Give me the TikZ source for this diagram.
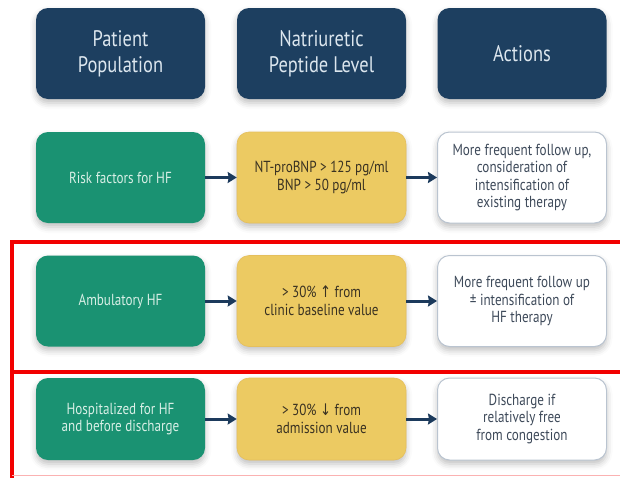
\documentclass[tikz,border=0pt]{standalone}
\usepackage{fontspec}
\setmainfont{PT Sans}[FakeStretch=0.82]
\newfontfamily\symfont{DejaVu Sans}[FakeStretch=0.82]
\usetikzlibrary{arrows.meta,shadows.blur}

\definecolor{navy}{HTML}{1D3F60}
\definecolor{teal}{HTML}{1A9272}
\definecolor{mustard}{HTML}{ECCA62}
\definecolor{paleline}{HTML}{BAC4D0}
\definecolor{headtext}{HTML}{DCE6EE}
\definecolor{greentext}{HTML}{D8EFE6}
\definecolor{yellowtext}{HTML}{3A3222}
\definecolor{whitetext}{HTML}{3E4A5A}
\definecolor{arrowcol}{HTML}{1C3A5C}
\definecolor{framered}{HTML}{F20000}

\tikzset{
  card/.style={rectangle, rounded corners=12pt, minimum width=169pt,
    minimum height=91pt, inner sep=0pt, align=center,
    blur shadow={shadow xshift=0pt, shadow yshift=-4pt, shadow opacity=25, shadow blur radius=6pt}},
  headbox/.style={card, fill=navy, text=headtext, font=\fontsize{22.5}{26}\selectfont},
  popbox/.style={card, fill=teal, text=greentext, font=\fontsize{16}{17.6}\selectfont},
  levelbox/.style={card, fill=mustard, draw=mustard!85!brown, line width=0.6pt,
    text=yellowtext, font=\fontsize{16}{17.6}\selectfont},
  actbox/.style={card, fill=white, draw=paleline, line width=1pt,
    text=whitetext, font=\fontsize{16}{17.6}\selectfont},
  flow/.style={draw=arrowcol, line width=3pt, -{Stealth[length=9pt,width=11pt,inset=1pt]}},
  frame/.style={draw=framered, line width=4pt}
}

\begin{document}
\begin{tikzpicture}[x=1pt,y=-1pt]
  \useasboundingbox (0,0) rectangle (620,477);
  \clip (0,0) rectangle (620,477);

  % column headers
  \node[headbox] (h1) at (120.5,53.5) {Patient\\Population};
  \node[headbox] (h2) at (321.5,53.5) {Natriuretic\\Peptide Level};
  \node[headbox] (h3) at (522,53.5) {Actions};

  % row 1: risk factors
  \node[popbox]   (p1) at (120.5,177.5) {Risk factors for HF};
  \node[levelbox] (l1) at (321.5,177.5) {NT-proBNP > 125 pg/ml\\BNP > 50 pg/ml};
  \node[actbox]   (a1) at (522,177.5) {More frequent follow up,\\consideration of\\intensification of\\existing therapy};

  % row 2: ambulatory
  \node[popbox]   (p2) at (120.5,301) {Ambulatory HF};
  \node[levelbox] (l2) at (321.5,301) {> 30\% {\symfont ↑} from\\clinic baseline value};
  \node[actbox]   (a2) at (522,301) {More frequent follow up\\± intensification of\\HF therapy};

  % row 3: hospitalized
  \node[popbox, minimum height=82pt]   (p3) at (120.5,419) {Hospitalized for HF\\and before discharge};
  \node[levelbox, minimum height=82pt] (l3) at (321.5,419) {> 30\% {\symfont ↓} from\\admission value};
  \node[actbox, minimum height=82pt]   (a3) at (522,419) {Discharge if\\relatively free\\from congestion};

  % connectors
  \foreach \r in {1,2,3} {
    \draw[flow] (p\r) -- (l\r);
    \draw[flow] (l\r) -- (a\r);
  }

  % highlight frames around rows 2 and 3
  \draw[frame] (640,242) -- (12,242) -- (12,372) -- (640,372);
  \draw[frame] (12,372) -- (12,480);
  \draw[framered!30, line width=1pt] (12,475.5) -- (640,475.5);
\end{tikzpicture}
\end{document}
